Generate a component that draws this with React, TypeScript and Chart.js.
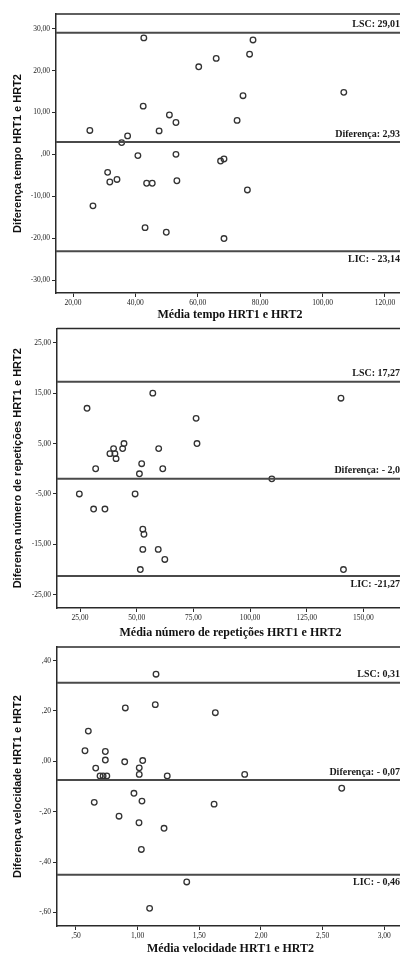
import React, { useEffect, useRef } from "react";
import { Chart, registerables } from "chart.js";

Chart.register(...registerables);

// ---------- Gráfico 1: tempo ----------
const tempoMedia = [42.7, 60.3, 42.5, 50.9, 53.0, 25.4, 37.5, 47.6, 35.6, 40.8, 53.0, 77.7, 76.6, 65.9, 74.5, 106.8, 72.6, 67.3, 68.4, 75.9, 68.4, 31.1, 31.8, 34.1, 43.6, 45.4, 53.3, 26.4, 43.1, 49.9];
const tempoDiferenca = [27.8, 20.9, 11.5, 9.4, 7.6, 5.7, 4.4, 5.6, 2.8, -0.3, 0.0, 27.3, 23.9, 22.9, 14.0, 14.8, 8.1, -1.6, -1.1, -8.5, -20.1, -4.3, -6.6, -6.0, -6.9, -6.9, -6.3, -12.3, -17.5, -18.6];
const tempoLimites = [29.01, 2.93, -23.14];
const tempoLimitesTexto = ["LSC: 29,01", "Diferença: 2,93", "LIC: - 23,14"];
const tempoXTicks = [20, 40, 60, 80, 100, 120];
const tempoYTicks = [30, 20, 10, 0, -10, -20, -30];

// ---------- Gráfico 2: número de repetições ----------
const repMedia = [57.1, 28.1, 76.2, 76.6, 59.7, 44.4, 43.8, 39.8, 38.2, 40.4, 40.9, 52.2, 31.9, 61.5, 51.2, 24.7, 49.3, 31.0, 36.0, 52.7, 53.2, 52.7, 59.5, 62.4, 51.6, 109.6, 141.2, 140.1];
const repDiferenca = [15, 12, 10, 5, 4, 5, 4, 4, 3, 3, 2, 1, 0, 0, -1, -5, -5, -8, -8, -12, -13, -16, -16, -18, -20, -2, -20, 14];
const repLimites = [17.27, -2.0, -21.27];
const repLimitesTexto = ["LSC: 17,27", "Diferença: - 2,0", "LIC: -21,27"];
const repXTicks = [25, 50, 75, 100, 125, 150];
const repYTicks = [25, 15, 5, -5, -15, -25];

// ---------- Gráfico 3: velocidade ----------
const velMedia = [1.149, 1.143, 0.90, 0.60, 0.573, 0.738, 0.738, 0.895, 1.041, 0.66, 1.013, 1.013, 1.24, 0.695, 0.72, 0.75, 1.63, 1.868, 2.655, 1.62, 0.648, 0.97, 1.035, 0.849, 1.011, 1.214, 1.03, 1.398, 1.097];
const velDiferenca = [0.346, 0.225, 0.212, 0.12, 0.042, 0.039, 0.005, -0.002, 0.003, -0.027, -0.026, -0.052, -0.058, -0.058, -0.058, -0.058, 0.193, -0.052, -0.107, -0.17, -0.163, -0.127, -0.158, -0.218, -0.244, -0.266, -0.35, -0.479, -0.584];
const velLimites = [0.312, -0.074, -0.45];
const velLimitesTexto = ["LSC: 0,31", "Diferença: - 0,07", "LIC: - 0,46"];
const velXTicks = [0.5, 1.0, 1.5, 2.0, 2.5, 3.0];
const velYTicks = [0.4, 0.2, 0, -0.2, -0.4, -0.6];

const fmt = (v: number) => {
  let s = Math.abs(v).toFixed(2).replace(".", ",");
  if (s.startsWith("0,")) s = s.slice(1);
  return (v < 0 ? "-" : "") + s;
};

const INK = "#2a2a2a";
const LINE = "#4a4a4a";

const framePlugin = {
  id: "frameLabels",
  afterDatasetsDraw(chart: any, _args: any, opts: any) {
    const { ctx, chartArea: a, scales } = chart;
    ctx.save();
    ctx.strokeStyle = INK;
    ctx.lineWidth = 1.5;
    ctx.beginPath();
    ctx.moveTo(a.left, a.top);
    ctx.lineTo(a.right, a.top);
    ctx.stroke();
    ctx.font = 'bold 10px "Liberation Serif"';
    ctx.fillStyle = "#1a1a1a";
    ctx.textAlign = "right";
    (opts.values || []).forEach((v: number, i: number) => {
      const y = scales.y.getPixelForValue(v);
      const below = i === 2;
      ctx.textBaseline = below ? "top" : "bottom";
      ctx.fillText(opts.labels[i], a.right - 4, below ? y + 3 : y - 3);
    });
    ctx.restore();
  },
};

type Props = {
  top: number;
  height: number;
  padTop: number;
  xHeight: number;
  yWidth: number;
  xMin: number;
  xMax: number;
  yMin: number;
  yMax: number;
  media: number[];
  diferenca: number[];
  limites: number[];
  limitesTexto: string[];
  xTicks: number[];
  yTicks: number[];
  xTitle: string;
  yTitle: string;
};

const WIDTH = 412;

function BlandAltman(p: Props) {
  const ref = useRef<HTMLCanvasElement | null>(null);
  useEffect(() => {
    if (!ref.current) return;
    const pts = p.media.map((x, i) => ({ x, y: p.diferenca[i] }));
    const lineSets = p.limites.map((v) => ({
      type: "line" as const,
      data: [
        { x: p.xMin, y: v },
        { x: p.xMax, y: v },
      ],
      showLine: true,
      borderColor: LINE,
      borderWidth: 2,
      pointRadius: 0,
      fill: false,
    }));
    const chart = new Chart(ref.current, {
      type: "scatter",
      data: {
        datasets: [
          ...lineSets,
          {
            type: "scatter",
            data: pts,
            pointRadius: 2.8,
            pointBorderWidth: 1.3,
            borderColor: "#333",
            backgroundColor: "rgba(0,0,0,0)",
            pointStyle: "circle",
          },
        ] as any,
      },
      options: {
        animation: false,
        responsive: false,
        devicePixelRatio: 1,
        layout: { padding: { top: p.padTop, right: 8, left: 0, bottom: 0 } },
        plugins: {
          legend: { display: false },
          tooltip: { enabled: false },
          frameLabels: { values: p.limites, labels: p.limitesTexto },
        } as any,
        scales: {
          x: {
            type: "linear",
            min: p.xMin,
            max: p.xMax,
            afterBuildTicks: (s: any) => {
              s.ticks = p.xTicks.map((v) => ({ value: v }));
            },
            afterFit: (s: any) => {
              s.height = p.xHeight;
            },
            grid: { drawOnChartArea: false, drawTicks: true, tickLength: 4, color: INK, tickWidth: 1 },
            border: { color: INK, width: 1.5 },
            ticks: {
              font: { family: "Liberation Serif", size: 7.5 },
              color: "#222",
              padding: 2,
              maxRotation: 0,
              autoSkip: false,
              callback: (v: any) => fmt(Number(v)),
            },
            title: {
              display: true,
              text: p.xTitle,
              font: { family: "Liberation Serif", size: 12, weight: "bold" },
              color: "#111",
              padding: { top: 0, bottom: 0 },
            },
          },
          y: {
            type: "linear",
            min: p.yMin,
            max: p.yMax,
            afterBuildTicks: (s: any) => {
              s.ticks = p.yTicks.map((v) => ({ value: v }));
            },
            afterFit: (s: any) => {
              s.width = p.yWidth;
            },
            grid: { drawOnChartArea: false, drawTicks: true, tickLength: 4, color: INK, tickWidth: 1 },
            border: { color: INK, width: 1.5 },
            ticks: {
              font: { family: "Liberation Serif", size: 7.5 },
              color: "#222",
              padding: 2,
              autoSkip: false,
              callback: (v: any) => fmt(Number(v)),
            },
            title: {
              display: true,
              text: p.yTitle,
              font: { family: "Liberation Sans", size: 11, weight: "bold" },
              color: "#111",
              padding: { top: 11, bottom: 0 },
            },
          },
        },
      },
      plugins: [framePlugin],
    });
    return () => chart.destroy();
  }, []);
  return (
    <canvas
      ref={ref}
      width={WIDTH}
      height={p.height}
      style={{ position: "absolute", left: 0, top: p.top, width: WIDTH, height: p.height }}
    />
  );
}

export default function App() {
  return (
    <div
      style={{
        position: "absolute",
        left: 0,
        top: 0,
        width: 400,
        height: 953,
        overflow: "hidden",
        background: "#fff",
      }}
    >
      <BlandAltman
        top={0}
        height={322}
        padTop={14}
        xHeight={29}
        yWidth={56}
        xMin={14.55}
        xMax={126.1}
        yMin={-33.1}
        yMax={33.5}
        media={tempoMedia}
        diferenca={tempoDiferenca}
        limites={tempoLimites}
        limitesTexto={tempoLimitesTexto}
        xTicks={tempoXTicks}
        yTicks={tempoYTicks}
        xTitle="Média tempo HRT1 e HRT2"
        yTitle="Diferença tempo HRT1 e HRT2"
      />
      <BlandAltman
        top={322}
        height={318}
        padTop={6}
        xHeight={32}
        yWidth={57}
        xMin={14.85}
        xMax={167.9}
        yMin={-27.63}
        yMax={27.83}
        media={repMedia}
        diferenca={repDiferenca}
        limites={repLimites}
        limitesTexto={repLimitesTexto}
        xTicks={repXTicks}
        yTicks={repYTicks}
        xTitle="Média número de repetições HRT1 e HRT2"
        yTitle="Diferença número de repetições HRT1 e HRT2"
      />
      <BlandAltman
        top={640}
        height={316}
        padTop={7}
        xHeight={30}
        yWidth={57}
        xMin={0.346}
        xMax={3.16}
        yMin={-0.654}
        yMax={0.454}
        media={velMedia}
        diferenca={velDiferenca}
        limites={velLimites}
        limitesTexto={velLimitesTexto}
        xTicks={velXTicks}
        yTicks={velYTicks}
        xTitle="Média velocidade HRT1 e HRT2"
        yTitle="Diferença velocidade HRT1 e HRT2"
      />
    </div>
  );
}
